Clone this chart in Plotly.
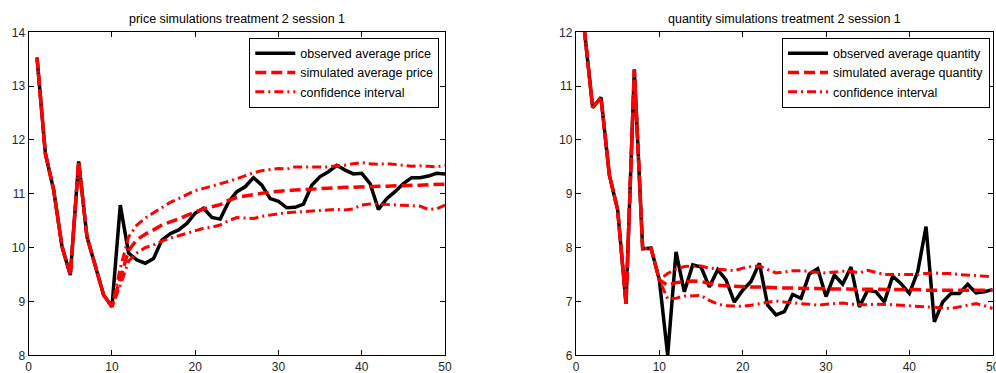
import plotly.graph_objects as go

periods = list(range(1, 51))

price_obs = [13.53, 11.75, 11.07, 10.02, 9.49, 11.6, 10.2, 9.64, 9.12, 8.9,
             10.79, 9.9, 9.77, 9.71, 9.8, 10.14, 10.26, 10.33, 10.45, 10.64,
             10.73, 10.56, 10.53, 10.85, 11.04, 11.13, 11.3, 11.16, 10.91, 10.86,
             10.74, 10.75, 10.81, 11.16, 11.32, 11.41, 11.53, 11.44, 11.37, 11.38,
             11.19, 10.71, 10.91, 11.04, 11.19, 11.3, 11.3, 11.33, 11.38, 11.37]
price_sim = [13.53, 11.75, 11.07, 10.02, 9.49, 11.6, 10.2, 9.64, 9.12, 8.9,
             9.45, 9.95, 10.15, 10.25, 10.33, 10.42, 10.48, 10.53, 10.6, 10.66,
             10.72, 10.76, 10.8, 10.88, 10.93, 10.96, 10.99, 11.01, 11.03, 11.05,
             11.06, 11.07, 11.08, 11.09, 11.1, 11.11, 11.11, 11.12, 11.12, 11.13,
             11.13, 11.14, 11.14, 11.15, 11.15, 11.16, 11.16, 11.17, 11.17, 11.18]
price_up = [13.53, 11.75, 11.07, 10.02, 9.49, 11.6, 10.2, 9.64, 9.12, 8.9,
            9.62, 10.2, 10.42, 10.55, 10.65, 10.75, 10.84, 10.91, 10.99, 11.06,
            11.1, 11.14, 11.18, 11.23, 11.28, 11.34, 11.39, 11.43, 11.45, 11.47,
            11.46, 11.5, 11.5, 11.5, 11.51, 11.5, 11.52, 11.53, 11.56, 11.58,
            11.56, 11.55, 11.56, 11.55, 11.53, 11.51, 11.52, 11.51, 11.5, 11.53]
price_lo = [13.53, 11.75, 11.07, 10.02, 9.49, 11.6, 10.2, 9.64, 9.12, 8.9,
            9.3, 9.75, 9.9, 10.0, 10.05, 10.12, 10.18, 10.22, 10.27, 10.31,
            10.36, 10.38, 10.42, 10.5, 10.56, 10.55, 10.54, 10.58, 10.61, 10.63,
            10.65, 10.66, 10.67, 10.69, 10.7, 10.71, 10.71, 10.7, 10.72, 10.79,
            10.81, 10.81, 10.8, 10.79, 10.79, 10.78, 10.77, 10.71, 10.72, 10.79]

qty_obs = [12.05, 10.6, 10.79, 9.35, 8.7, 6.96, 11.31, 7.98, 7.99, 7.4,
           6.0, 7.92, 7.18, 7.68, 7.64, 7.27, 7.59, 7.4, 6.99, 7.21,
           7.37, 7.71, 6.93, 6.75, 6.81, 7.13, 7.06, 7.51, 7.61, 7.09,
           7.49, 7.32, 7.64, 6.9, 7.21, 7.18, 6.99, 7.47, 7.33, 7.15,
           7.55, 8.39, 6.62, 6.99, 7.15, 7.15, 7.32, 7.16, 7.18, 7.22]
qty_sim = [12.05, 10.6, 10.79, 9.35, 8.7, 6.96, 11.31, 7.98, 7.99, 7.4,
           7.3, 7.35, 7.37, 7.38, 7.37, 7.33, 7.3, 7.29, 7.28, 7.28,
           7.27, 7.27, 7.26, 7.26, 7.25, 7.25, 7.24, 7.24, 7.24, 7.23,
           7.23, 7.23, 7.23, 7.23, 7.22, 7.22, 7.22, 7.22, 7.22, 7.22,
           7.22, 7.21, 7.21, 7.21, 7.21, 7.21, 7.21, 7.21, 7.21, 7.21]
qty_up = [12.05, 10.6, 10.79, 9.35, 8.7, 6.96, 11.31, 7.98, 7.99, 7.4,
          7.52, 7.6, 7.65, 7.66, 7.66, 7.62, 7.6, 7.58, 7.57, 7.62,
          7.65, 7.66, 7.6, 7.53, 7.55, 7.57, 7.57, 7.55, 7.54, 7.53,
          7.55, 7.56, 7.56, 7.53, 7.58, 7.54, 7.5, 7.5, 7.5, 7.49,
          7.5, 7.52, 7.53, 7.52, 7.52, 7.5, 7.49, 7.48, 7.47, 7.46]
qty_lo = [12.05, 10.6, 10.79, 9.35, 8.7, 6.96, 11.31, 7.98, 7.99, 7.4,
          7.05, 7.06, 7.1, 7.11, 7.11, 7.02, 6.95, 6.92, 6.91, 6.91,
          6.93, 6.96, 6.99, 7.01, 6.99, 6.97, 6.96, 6.95, 6.93, 6.95,
          6.96, 6.97, 6.95, 6.94, 6.94, 6.95, 6.95, 6.94, 6.93, 6.92,
          6.9, 6.89, 6.88, 6.87, 6.87, 6.9, 6.93, 6.96, 6.92, 6.87]

x_ticks = [0, 10, 20, 30, 40, 50]
price_ticks = [8, 9, 10, 11, 12, 13, 14]
qty_ticks = [6, 7, 8, 9, 10, 11, 12]

titles = ["price simulations treatment 2 session 1",
          "quantity simulations treatment 2 session 1"]
names_price = ["observed average price", "simulated average price", "confidence interval"]
names_qty = ["observed average quantity", "simulated average quantity", "confidence interval"]

W, H = 996, 373
FONT = "Liberation Sans, Arial, Helvetica, sans-serif"
RED = "#ff0000"
DASH = "11px,5px"
DASHDOT = "9px,4px,2px,4px"

fig = go.Figure()

def add_panel(xa, ya, legend, obs, sim, up, lo, names):
    fig.add_trace(go.Scatter(x=periods, y=obs, mode="lines", name=names[0],
                             line=dict(color="black", width=3.5),
                             xaxis=xa, yaxis=ya, legend=legend))
    fig.add_trace(go.Scatter(x=periods, y=sim, mode="lines", name=names[1],
                             line=dict(color=RED, width=3.5, dash=DASH),
                             xaxis=xa, yaxis=ya, legend=legend))
    fig.add_trace(go.Scatter(x=periods, y=up, mode="lines", name=names[2],
                             line=dict(color=RED, width=3, dash=DASHDOT),
                             xaxis=xa, yaxis=ya, legend=legend))
    fig.add_trace(go.Scatter(x=periods, y=lo, mode="lines", name=names[2],
                             line=dict(color=RED, width=3, dash=DASHDOT),
                             showlegend=False,
                             xaxis=xa, yaxis=ya, legend=legend))

add_panel("x", "y", "legend", price_obs, price_sim, price_up, price_lo, names_price)
add_panel("x2", "y2", "legend2", qty_obs, qty_sim, qty_up, qty_lo, names_qty)

ydom = [(H - 355.3) / H, (H - 32.3) / H]
dom1 = [28.7 / W, 445.0 / W]
dom2 = [576.0 / W, 992.7 / W]

axis_common = dict(showline=True, linecolor="black", linewidth=1.3, mirror="ticks",
                   ticks="inside", ticklen=5, tickcolor="black", tickwidth=1,
                   showgrid=False, zeroline=False, automargin=False,
                   ticklabeloverflow="allow",
                   tickfont=dict(family=FONT, size=12, color="#262626"))

legend_common = dict(xanchor="right", y=(H - 37.7) / H, yanchor="top",
                     bgcolor="white", bordercolor="black", borderwidth=1,
                     font=dict(family=FONT, size=12.5, color="black"),
                     tracegroupgap=0, itemwidth=40)

fig.update_layout(
    template="none",
    width=W, height=H,
    margin=dict(l=0, r=0, t=0, b=0, pad=0),
    paper_bgcolor="white", plot_bgcolor="white",
    font=dict(family=FONT, size=12, color="black"),
    xaxis=dict(domain=dom1, range=[0, 50], tickvals=x_ticks, anchor="y", **axis_common),
    yaxis=dict(domain=ydom, range=[8, 14], tickvals=price_ticks, anchor="x", **axis_common),
    xaxis2=dict(domain=dom2, range=[0, 50], tickvals=x_ticks, anchor="y2", **axis_common),
    yaxis2=dict(domain=ydom, range=[6, 12], tickvals=qty_ticks, anchor="x2", **axis_common),
    legend=dict(x=439.3 / W, **legend_common),
    legend2=dict(x=990.0 / W, **legend_common),
    showlegend=True,
)

for dom, t in zip([dom1, dom2], titles):
    fig.add_annotation(text=t, xref="paper", yref="paper",
                       x=(dom[0] + dom[1]) / 2, y=(H - 18.5) / H,
                       xanchor="center", yanchor="middle", showarrow=False,
                       font=dict(family=FONT, size=12.5, color="black"))

fig.write_html("out.html",
               config={"displayModeBar": False},
               post_script="document.body.style.margin='0';document.body.style.overflow='hidden';")
